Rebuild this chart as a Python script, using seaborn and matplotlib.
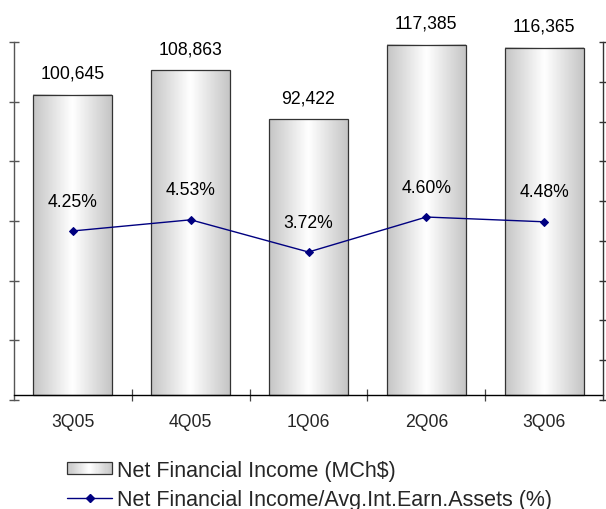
import numpy as np
import pandas as pd
import matplotlib
matplotlib.use("Agg")
import matplotlib.pyplot as plt
import seaborn as sns
from matplotlib.patches import Rectangle
from matplotlib.lines import Line2D
from matplotlib.legend_handler import HandlerBase

# ---- data ----
quarters = ["3Q05", "4Q05", "1Q06", "2Q06", "3Q06"]
net_income = [100645, 108863, 92422, 117385, 116365]
nim_pct = [4.25, 4.53, 3.72, 4.60, 4.48]
income_labels = ["100,645", "108,863", "92,422", "117,385", "116,365"]
nim_labels = ["4.25%", "4.53%", "3.72%", "4.60%", "4.48%"]
legend_labels = ["Net Financial Income (MCh$)",
                 "Net Financial Income/Avg.Int.Earn.Assets (%)"]

sns.set_theme(style="ticks")
plt.rcParams["font.family"] = ["Liberation Sans", "DejaVu Sans"]
FS = 12.7
LFS = 15.5


def shade(tt):
    return 1.0 - 0.23 * np.abs(tt - 0.5) / 0.5


df = pd.DataFrame({"quarter": quarters, "income": net_income, "nim": nim_pct})

fig = plt.figure(figsize=(6.06, 5.10), dpi=100)
W, H = 606, 510
ax = fig.add_axes([14 / W, 109 / H, (603 - 14) / W, 358 / H])

sns.barplot(data=df, x="quarter", y="income", ax=ax, width=0.67,
            color="#e6e6e6", edgecolor="#333333", linewidth=0.9,
            saturation=1, zorder=2)

# cylinder-like gradient fill
t = np.linspace(0, 1, 256)
grad = np.tile(shade(t), (2, 1))
for p in ax.patches:
    x0, y0 = p.get_x(), p.get_y()
    w, h = p.get_width(), p.get_height()
    ax.imshow(grad, extent=[x0, x0 + w, y0, y0 + h], aspect="auto",
              cmap="gray", vmin=0, vmax=1, interpolation="bicubic", zorder=1.9)
    p.set_facecolor("none")

ymin, ymax = -1676, 118324
ax.set_xlim(-0.5, 4.5)
ax.set_ylim(ymin, ymax)
ax.set_xlabel("")
ax.set_ylabel("")

for i, (v, lab) in enumerate(zip(net_income, income_labels)):
    ax.annotate(lab, (i, v), xytext=(0, 15.5), textcoords="offset points",
                ha="center", va="center", fontsize=FS, color="black")

# axes styling
ax.spines["top"].set_visible(False)
ax.spines["right"].set_visible(False)
ax.spines["bottom"].set_position(("data", 0))
ax.spines["bottom"].set_color("black")
ax.spines["bottom"].set_linewidth(1.0)
ax.spines["left"].set_color("#555555")
ax.spines["left"].set_linewidth(1.0)
ax.set_yticks(np.linspace(ymin, ymax, 7))
ax.set_yticklabels([])
ax.tick_params(axis="y", direction="inout", length=7, width=1, color="#555555")
ax.set_xticks(range(len(quarters)))
ax.set_xticklabels(quarters, fontsize=FS)
ax.tick_params(axis="x", which="major", length=0, pad=13)
ax.set_xticks(np.arange(-0.5, 5.0, 1.0)[1:-1], minor=True)
ax.tick_params(axis="x", which="minor", direction="inout", length=8,
               width=0.9, color="#444444")

# secondary axis
ax2 = ax.twinx()
sns.pointplot(data=df, x="quarter", y="nim", ax=ax2, color="#000080",
              markers="D", markersize=4.5, linewidth=1.0, zorder=3)
ax2.set_xlim(-0.5, 4.5)
ax2.set_ylim(0, 9)
ax2.set_yticks(range(10))
ax2.set_yticklabels([])
ax2.set_ylabel("")
ax2.set_xlabel("")
ax2.tick_params(axis="y", direction="inout", length=6, width=1, color="#333333")
for s in ["top", "left", "bottom"]:
    ax2.spines[s].set_visible(False)
ax2.spines["right"].set_color("#333333")
ax2.spines["right"].set_linewidth(1.0)
ax2.tick_params(axis="x", which="both", length=0, labelbottom=False)

for i, (v, lab) in enumerate(zip(nim_pct, nim_labels)):
    ax2.annotate(lab, (i, v), xytext=(0, 21.5), textcoords="offset points",
                 ha="center", va="center", fontsize=FS, color="black")


# legend with gradient patch
class HandlerGradient(HandlerBase):
    def create_artists(self, legend, orig_handle, xdescent, ydescent,
                       width, height, fontsize, trans):
        arts = []
        n = 40
        for k in range(n):
            g = float(shade((k + 0.5) / n))
            r = Rectangle((-xdescent + width * k / n, -ydescent), width / n + 0.05,
                          height, facecolor=(g, g, g), edgecolor="none",
                          transform=trans)
            arts.append(r)
        arts.append(Rectangle((-xdescent, -ydescent), width, height,
                              facecolor="none", edgecolor="#333333",
                              linewidth=0.9, transform=trans))
        return arts


bar_handle = Rectangle((0, 0), 1, 1)
line_handle = Line2D([], [], color="#000080", marker="D", markersize=4.5,
                     linewidth=1.0)
fig.legend([bar_handle, line_handle], legend_labels,
           handler_map={Rectangle: HandlerGradient()},
           loc="upper left", bbox_to_anchor=(67 / W, 1 - 461 / H),
           frameon=False, fontsize=LFS, handlelength=2.1, handleheight=0.5,
           handletextpad=0.22, labelspacing=0.38, borderpad=0,
           borderaxespad=0)

fig.savefig("out.png", dpi=100)
